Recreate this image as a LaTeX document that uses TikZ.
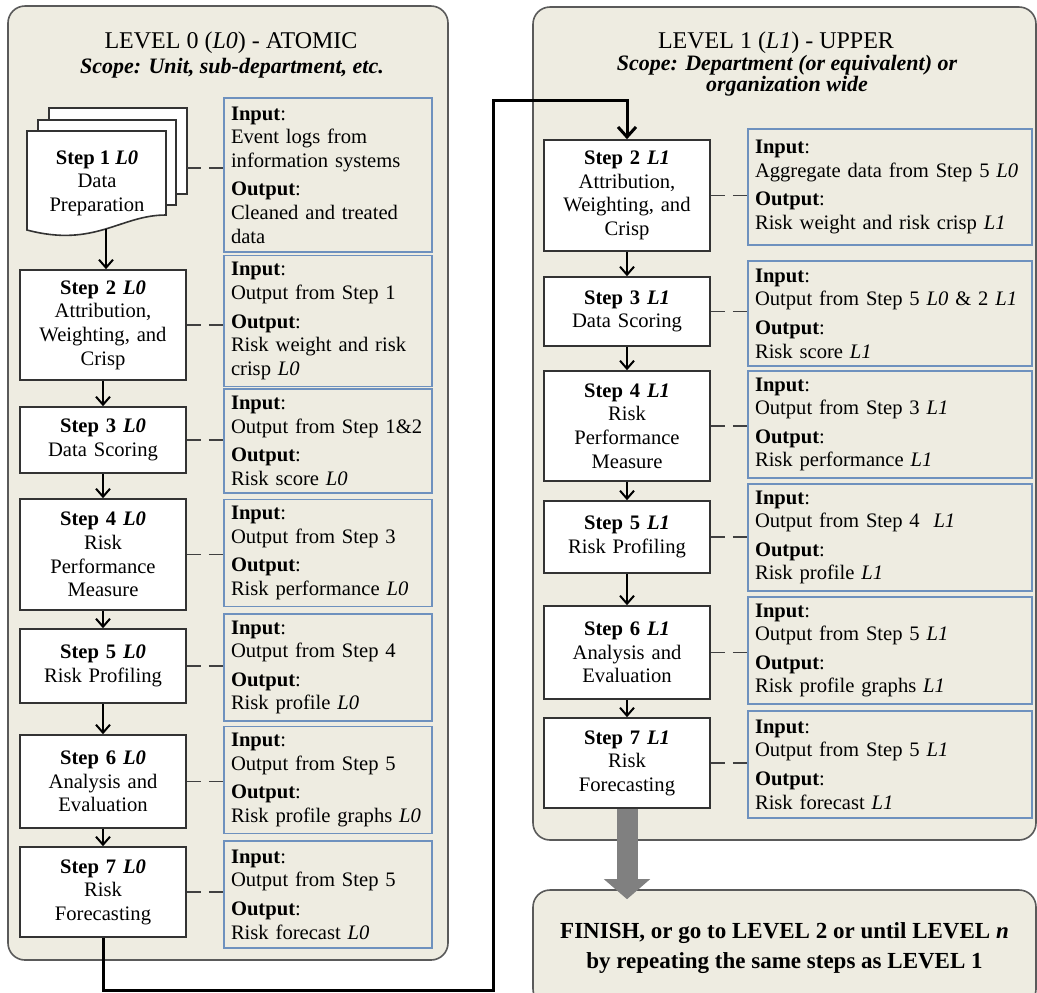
\documentclass[tikz,border=0pt]{standalone}
\usepackage{fontspec}
\setmainfont{Liberation Serif}
\usetikzlibrary{arrows.meta}
\definecolor{panelfill}{HTML}{EEECE1}
\definecolor{panelline}{HTML}{5A5A5A}
\definecolor{infoline}{HTML}{6E91BE}
\definecolor{bigarrow}{HTML}{808080}
\tikzset{
  stepbox/.style={draw=black!80, fill=white, line width=0.8pt, text width=77pt, inner xsep=3pt, align=center},
  infobox/.style={draw=infoline, line width=0.7pt, text width=97pt, inner xsep=3.5pt, align=left},
  infowide/.style={infobox, text width=135pt},
  panel/.style={draw=panelline, fill=panelfill, line width=0.8pt, rounded corners=8.5pt},
  page/.style={draw=black!80, fill=white, line width=0.8pt},
  dashlink/.style={draw=black!75, line width=0.9pt, dash pattern=on 7pt off 4pt},
  flow/.style={draw=black, line width=1pt, -{Straight Barb[length=4pt,width=7pt]}},
  levellink/.style={draw=black, line width=1.5pt, -{Straight Barb[length=5pt,width=9pt]}},
  finishlink/.style={draw=bigarrow, line width=10.5pt, -{Triangle[length=10pt,width=22.5pt]}},
  title/.style={font=\fontsize{12}{14}\selectfont},
  scope/.style={font=\fontsize{11}{10.5}\selectfont\bfseries\itshape, align=center}
}
\begin{document}
\begin{tikzpicture}[x=0.5pt, y=-0.5pt, every node/.style={font=\fontsize{10.3}{11.8}\selectfont}]
  \useasboundingbox (0,0) rectangle (1037,992);
  \draw[panel] (8,6) rectangle (448,960);
  \draw[panel] (533,7) rectangle (1036,840);

  \node[title] (lev0) at (231,43) {LEVEL 0 (\textit{L0}) - ATOMIC};
  \node[scope] (scope0) at (232,68) {Scope: Unit, sub-department, etc.};
  \node[title] (lev1) at (776,43) {LEVEL 1 (\textit{L1}) - UPPER};
  \node[scope] (scope1) at (787,76) {Scope: Department (or equivalent) or\\organization wide};

  \draw[page] (49,108) -- (187,108) -- (187,194) -- (176,194) -- (176,125) -- (49,125) -- cycle;
  \draw[page] (38,120) -- (176,120) -- (176,205) -- (166,205) -- (166,140) -- (38,140) -- cycle;
  \draw[page] (27,131) -- (166,131) -- (166,215) .. controls (120,215) and (95,248) .. (27,230) -- cycle;
  \node[align=center] (s1) at (97,183) {\textbf{Step 1 \textit{L0}}\\Data\\Preparation};
  \coordinate (s1e) at (187,168);
  \coordinate (s1b) at (106,229);

  \node[stepbox, minimum height=55pt] (s2) at (103,325) {\textbf{Step 2 \textit{L0}}\\Attribution,\\Weighting, and\\Crisp};
  \node[stepbox, minimum height=33pt] (s3) at (103,440) {\textbf{Step 3 \textit{L0}}\\Data Scoring};
  \node[stepbox, minimum height=55.5pt] (s4) at (103,554.5) {\textbf{Step 4 \textit{L0}}\\Risk\\Performance\\Measure};
  \node[stepbox, minimum height=37pt] (s5) at (103,666) {\textbf{Step 5 \textit{L0}}\\Risk Profiling};
  \node[stepbox, minimum height=46.5pt] (s6) at (103,781.5) {\textbf{Step 6 \textit{L0}}\\Analysis and\\Evaluation};
  \node[stepbox, minimum height=45pt] (s7) at (103,892) {\textbf{Step 7 \textit{L0}}\\Risk\\Forecasting};

  \node[infobox, minimum height=77pt] (i1) at (328,175) {\textbf{Input}:\\Event logs from\\information systems\\[2.5pt]\textbf{Output}:\\Cleaned and treated\\data};
  \node[infobox, minimum height=62pt] (i2) at (328,321) {\textbf{Input}:\\Output from Step 1\\[2.5pt]\textbf{Output}:\\Risk weight and risk\\crisp \textit{L0}};
  \node[infobox, minimum height=52pt] (i3) at (328,441) {\textbf{Input}:\\Output from Step 1\&2\\[2.5pt]\textbf{Output}:\\Risk score \textit{L0}};
  \node[infobox, minimum height=52pt] (i4) at (328,553) {\textbf{Input}:\\Output from Step 3\\[2.5pt]\textbf{Output}:\\Risk performance \textit{L0}};
  \node[infobox, minimum height=52.5pt] (i5) at (328,667.5) {\textbf{Input}:\\Output from Step 4\\[2.5pt]\textbf{Output}:\\Risk profile \textit{L0}};
  \node[infobox, minimum height=53pt] (i6) at (328,780) {\textbf{Input}:\\Output from Step 5\\[2.5pt]\textbf{Output}:\\Risk profile graphs \textit{L0}};
  \node[infobox, minimum height=53.5pt] (i7) at (328,894.5) {\textbf{Input}:\\Output from Step 5\\[2.5pt]\textbf{Output}:\\Risk forecast \textit{L0}};

  \node[stepbox, minimum height=55.5pt] (t2) at (627,195.5) {\textbf{Step 2 \textit{L1}}\\Attribution,\\Weighting, and\\Crisp};
  \node[stepbox, minimum height=34.5pt] (t3) at (627,311.5) {\textbf{Step 3 \textit{L1}}\\Data Scoring};
  \node[stepbox, minimum height=55pt] (t4) at (627,426) {\textbf{Step 4 \textit{L1}}\\Risk\\Performance\\Measure};
  \node[stepbox, minimum height=36pt] (t5) at (627,537) {\textbf{Step 5 \textit{L1}}\\Risk Profiling};
  \node[stepbox, minimum height=46.5pt] (t6) at (627,652.5) {\textbf{Step 6 \textit{L1}}\\Analysis and\\Evaluation};
  \node[stepbox, minimum height=45pt] (t7) at (627,763) {\textbf{Step 7 \textit{L1}}\\Risk\\Forecasting};

  \node[infowide, minimum height=58pt] (j2) at (890,187) {\textbf{Input}:\\Aggregate data from Step 5 \textit{L0}\\[2.5pt]\textbf{Output}:\\Risk weight and risk crisp \textit{L1}};
  \node[infowide, minimum height=52.5pt] (j3) at (890,313.5) {\textbf{Input}:\\Output from Step 5 \textit{L0} \& 2 \textit{L1}\\[2.5pt]\textbf{Output}:\\Risk score \textit{L1}};
  \node[infowide, minimum height=52.5pt] (j4) at (890,424.5) {\textbf{Input}:\\Output from Step 3 \textit{L1}\\[2.5pt]\textbf{Output}:\\Risk performance \textit{L1}};
  \node[infowide, minimum height=52.5pt] (j5) at (890,537.5) {\textbf{Input}:\\Output from Step 4 \ \textit{L1}\\[2.5pt]\textbf{Output}:\\Risk profile \textit{L1}};
  \node[infowide, minimum height=53.5pt] (j6) at (890,650.5) {\textbf{Input}:\\Output from Step 5 \textit{L1}\\[2.5pt]\textbf{Output}:\\Risk profile graphs \textit{L1}};
  \node[infowide, minimum height=53.5pt] (j7) at (890,764.5) {\textbf{Input}:\\Output from Step 5 \textit{L1}\\[2.5pt]\textbf{Output}:\\Risk forecast \textit{L1}};

  \node[panel, minimum width=251.5pt, minimum height=58pt, align=center,
        font=\fontsize{11.5}{15}\selectfont\bfseries] (finish) at (784.5,948)
        {FINISH, or go to LEVEL 2 or until LEVEL \textit{n}\\by repeating the same steps as LEVEL 1};

  \draw[dashlink] (s1e) -- (s1e -| i1.west);
  \foreach \a/\b in {s2/i2, s3/i3, s4/i4, s5/i5, s6/i6, s7/i7, t2/j2, t3/j3, t4/j4, t5/j5, t6/j6, t7/j7}
    \draw[dashlink] (\a.east) -- (\a.east -| \b.west);

  \draw[flow] (s1b) -- (s1b |- s2.north);
  \foreach \a/\b in {s2/s3, s3/s4, s4/s5, s5/s6, s6/s7, t2/t3, t3/t4, t4/t5, t5/t6, t6/t7}
    \draw[flow] (\a.south) -- (\a.south |- \b.north);

  \coordinate (down) at (493,990);
  \coordinate (up) at (493,100);
  \draw[levellink] (s7.south) |- (down) -- (up) -| (t2.north);
  \draw[finishlink, shorten >=-5pt] (t7.south) -- (t7.south |- finish.north);
\end{tikzpicture}
\end{document}
